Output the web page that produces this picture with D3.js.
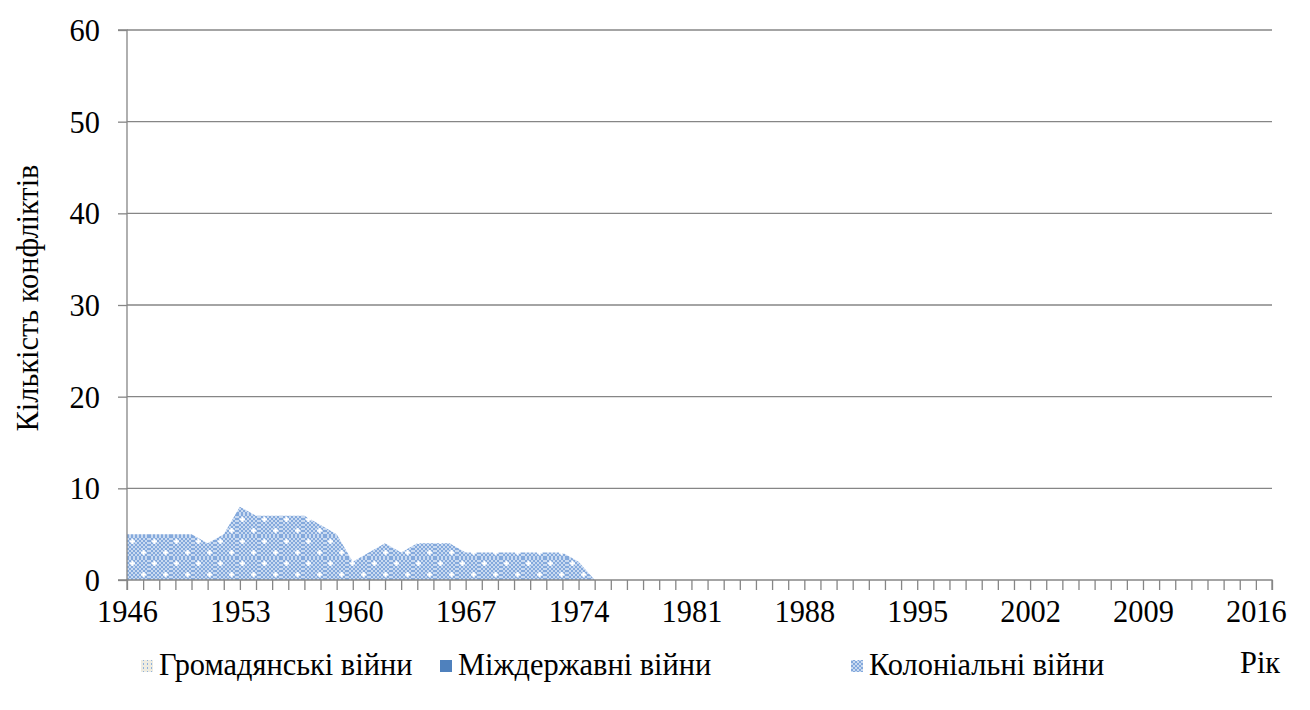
<!DOCTYPE html>
<html>
<head>
<meta charset="utf-8">
<script src="https://cdn.jsdelivr.net/npm/d3@7"></script>
<style>
  body { margin: 0; background: #fff; }
  text { font-family: "Liberation Serif", "Times New Roman", serif; fill: #000; }
</style>
</head>
<body>
<script>
// years 1946..2017, one category per year
const years = d3.range(1946, 2018);
const tickYears = [1946, 1953, 1960, 1967, 1974, 1981, 1988, 1995, 2002, 2009, 2016];
const yTicks = [0, 10, 20, 30, 40, 50, 60];
const seriesNames = ['Громадянські війни', 'Міждержавні війни', 'Колоніальні війни'];
// only the colonial series is drawn in this picture
const civilWars = [];
const interstateWars = [];
const colonialWars = [5, 5, 5, 5, 5, 4, 5, 8, 7, 7, 7, 7, 6, 5, 2, 3, 4, 3, 4, 4,
                      4, 3, 3, 3, 3, 3, 3, 3, 2, 0, 0, 0, 0, 0, 0, 0, 0, 0, 0, 0,
                      0, 0, 0, 0, 0, 0, 0, 0, 0, 0, 0, 0, 0, 0, 0, 0, 0, 0, 0, 0,
                      0, 0, 0, 0, 0, 0, 0, 0, 0, 0, 0, 0];

const width = 1310, height = 710;
const margin = { top: 30, left: 127, right: 38, bottom: 130 };
const w = width - margin.left - margin.right;
const h = height - margin.top - margin.bottom;
// slightly tall, narrow text like the original
const fontSize = 32, sx = 0.95;

function squeeze(sel) {
  sel.each(function () {
    const t = d3.select(this);
    const xv = +t.attr('x') || 0;
    t.attr('x', xv / sx)
      .attr('transform', `scale(${sx},1)`)
      .style('font-size', fontSize + 'px')
      .style('font-family', '"Liberation Serif", "Times New Roman", serif')
      .attr('fill', '#000');
  });
}

const svg = d3.select('body').append('svg').attr('width', width).attr('height', height);
const defs = svg.append('defs');

// checker + sparkle pattern for the colonial area
const pat = defs.append('pattern').attr('id', 'colonial')
  .attr('patternUnits', 'userSpaceOnUse').attr('width', 22).attr('height', 22);
pat.append('rect').attr('width', 22).attr('height', 22).attr('fill', '#c9daf1');
for (let i = 0; i < 22; i += 2) {
  for (let j = 0; j < 22; j += 2) {
    if (((i + j) / 2) % 2 === 0) pat.append('rect').attr('x', i).attr('y', j).attr('width', 2).attr('height', 2).attr('fill', '#84a9dc');
  }
}
[[5, 5], [16, 16]].forEach(([cx, cy]) => {
  pat.append('rect').attr('x', cx - 2).attr('y', cy - 0.5).attr('width', 5).attr('height', 2).attr('fill', '#fff');
  pat.append('rect').attr('x', cx - 0.5).attr('y', cy - 2).attr('width', 2).attr('height', 5).attr('fill', '#fff');
});

// legend pattern for civil wars
const patCivil = defs.append('pattern').attr('id', 'civil')
  .attr('patternUnits', 'userSpaceOnUse').attr('width', 4).attr('height', 4);
patCivil.append('rect').attr('width', 4).attr('height', 4).attr('fill', '#eeece1');
patCivil.append('rect').attr('x', 2).attr('width', 1).attr('height', 2).attr('fill', '#8fb1dd');

const x = d3.scaleLinear().domain([1946, 2017]).range([0, w]);
const y = d3.scaleLinear().domain([0, 60]).range([h, 0]);

const g = svg.append('g').attr('transform', `translate(${margin.left},${margin.top})`);

// grid lines
g.selectAll('line.grid').data(yTicks.filter(d => d > 0)).enter().append('line')
  .attr('x1', 0).attr('x2', w).attr('y1', d => y(d)).attr('y2', d => y(d))
  .attr('stroke', '#868686').attr('stroke-width', 1.3);

// stacked areas
const table = years.map((yr, i) => ({
  year: yr,
  civil: civilWars[i] || 0,
  interstate: interstateWars[i] || 0,
  colonial: colonialWars[i] || 0
}));
const stack = d3.stack().keys(['civil', 'interstate', 'colonial'])(table);
const area = d3.area().x(d => x(d.data.year)).y0(d => y(d[0])).y1(d => y(d[1]));
const fills = { civil: 'url(#civil)', interstate: '#4f81bd', colonial: 'url(#colonial)' };
g.selectAll('path.layer').data(stack).enter().append('path')
  .attr('d', area).attr('fill', d => fills[d.key]);

// axes
const yAxis = d3.axisLeft(y).tickValues(yTicks).tickSize(9).tickPadding(18).tickFormat(d3.format('d'));
const xAxis = d3.axisBottom(x).tickValues(years).tickSize(10).tickPadding(9)
  .tickFormat(d => tickYears.includes(d) ? d : '');

const ya = g.append('g').call(yAxis);
const xa = g.append('g').attr('transform', `translate(0,${h})`).call(xAxis);
[ya, xa].forEach(a => {
  a.select('.domain').attr('stroke', '#868686').attr('stroke-width', 1.3);
  a.selectAll('.tick line').attr('stroke', '#868686').attr('stroke-width', 1.3);
  squeeze(a.selectAll('text'));
});
ya.select('.domain').attr('d', `M-9,${h}H0V0H-9`);
xa.select('.domain').attr('d', `M0,${10}V0H${w}V10`);
ya.selectAll('text').attr('dy', '0.33em');

// y axis title
svg.append('g')
  .attr('transform', 'translate(38, 298) rotate(-90)')
  .append('text')
  .attr('text-anchor', 'middle')
  .text('Кількість конфліктів')
  .call(squeeze);

// legend
const legend = svg.append('g').attr('transform', 'translate(0,675)');
const legendX = [141, 440, 851];
seriesNames.forEach((name, i) => {
  const lg = legend.append('g').attr('transform', `translate(${legendX[i]},0)`);
  lg.append('rect').attr('x', 0).attr('y', -15).attr('width', 12).attr('height', 12)
    .attr('fill', ['url(#civil)', '#4f81bd', 'url(#colonial)'][i]);
  lg.append('text').attr('x', 18).attr('y', 0).text(name).call(squeeze);
});
svg.append('text').attr('x', 1240).attr('y', 673).text('Рік').call(squeeze);
</script>
</body>
</html>
